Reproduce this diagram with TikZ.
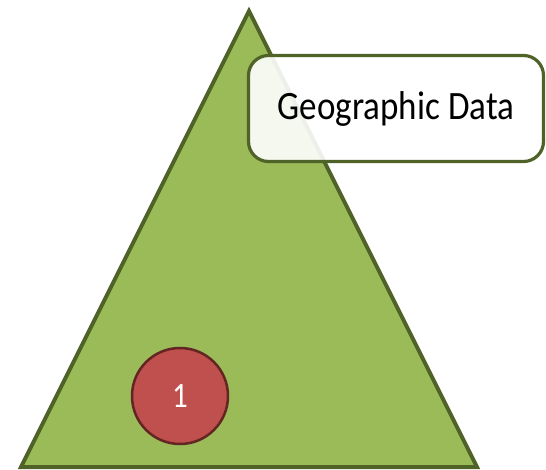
\documentclass[tikz,border=0pt]{standalone}
\usepackage{fontspec}
\setmainfont{Carlito}
\usetikzlibrary{positioning}
\definecolor{olivefill}{HTML}{9BBB59}
\definecolor{olivedark}{HTML}{4F6228}
\definecolor{redfill}{HTML}{C0504D}
\definecolor{reddark}{HTML}{632523}
\newcommand{\tallword}[1]{\scalebox{1}[1.15]{#1}}
\tikzset{
  label box/.style={draw=olivedark,line width=3.2pt,fill=white,fill opacity=0.9,
    text opacity=1,rounded corners=20pt,minimum width=295pt,minimum height=106pt,
    font=\fontsize{35}{40}\selectfont},
  step badge/.style={circle,draw=reddark,line width=2.5pt,fill=redfill,
    minimum size=96pt,inner sep=0pt,text=white,font=\fontsize{31}{36}\selectfont}
}

\begin{document}
\begin{tikzpicture}[x=1pt,y=-1pt]
\useasboundingbox (0,0) rectangle (546,470);
\coordinate (A) at (249,11);
\coordinate (L) at (21,467);
\coordinate (R) at (477,467);
\draw[olivedark,fill=olivefill,line width=4pt] (A)--(L)--(R)--cycle;
\node[step badge] (one) at (180,396) {\tallword{1}};
\node[label box] (geo) at (396,108.5) {\raisebox{-3pt}{\tallword{Geographic Data}}};
\end{tikzpicture}
\end{document}
